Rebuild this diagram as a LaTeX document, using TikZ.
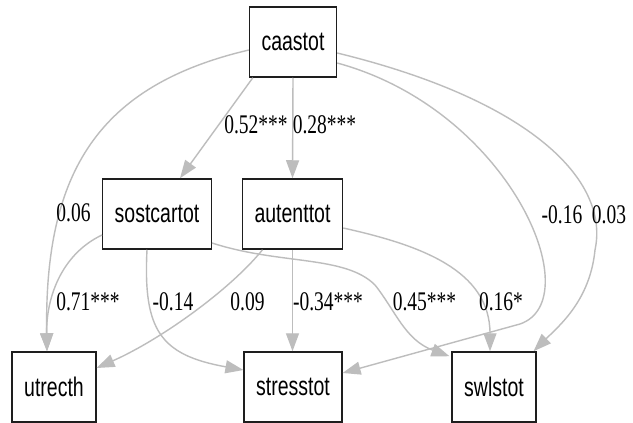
\documentclass[tikz,border=0pt]{standalone}
\usepackage{fontspec}
\setmainfont{Liberation Serif}
\setsansfont{Liberation Sans}
\usepackage{tikz}
\usepackage{xcolor}
\usetikzlibrary{arrows.meta,positioning,calc}
\definecolor{ink}{HTML}{1E1E1E}
\definecolor{pathgray}{HTML}{BDBDBD}
\newcommand{\tall}[1]{\scalebox{1}[1.38]{#1}}
\tikzset{
  varbox/.style={draw=ink,fill=white,line width=1.5pt,inner xsep=12pt,
                 minimum height=70pt,font=\sffamily\fontsize{19.5}{19.5}\selectfont},
  grayarr/.style={-{Triangle[length=18pt,width=13pt]},line width=1.4pt,
                  draw=pathgray,color=pathgray},
  coef/.style={inner sep=1pt,font=\rmfamily\fontsize{19.5}{19.5}\selectfont}
}
\begin{document}
\begin{tikzpicture}[x=1pt,y=-1pt]
    \path[use as bounding box,fill=white] (0,0) rectangle (633,423);

    \node[varbox] (caastot) at (293,42) {\tall{caastot}};
    \node[varbox] (sostcartot) at (157,214) {\tall{sostcartot}};
    \node[varbox] (autenttot) at (292.5,214) {\tall{autenttot}};
    \node[varbox] (utrecth) at (54,387) {\tall{utrecth}};
    \node[varbox] (stresstot) at (293,387) {\tall{stresstot}};
    \node[varbox] (swlstot) at (494,387) {\tall{swlstot}};

    \draw[grayarr] (caastot.west |- 0,50) .. controls (100,85) and (44,170)
      .. ($(utrecth.north)+(-7,0)$);
    \draw[grayarr] ($(caastot.south west)+(4,0)$) -- ($(sostcartot.north)+(23,0)$);
    \draw[grayarr] (caastot.south) -- (autenttot.north);
    \draw[grayarr] ($(caastot.east)+(0,21)$) .. controls (510,110) and (590,300)
      .. (520,324) -- ($(stresstot.east)+(0,-14)$);
    \draw[grayarr] ($(caastot.east)+(0,11)$) .. controls (530,100) and (610,180)
      .. (595,250) .. controls (590,300) and (560,325) .. ($(swlstot.north east)+(-3,0)$);

    \draw[grayarr] ($(sostcartot.west)+(0,21)$) .. controls (60,255) and (46,300)
      .. ($(utrecth.north)+(-7,0)$);
    \draw[grayarr] ($(sostcartot.south)+(-10,0)$) .. controls (143,330) and (160,355)
      .. ($(stresstot.west)+(0,-17)$);
    \draw[grayarr] ($(sostcartot.east)+(0,29)$) .. controls (280,265) and (345,255)
      .. (375,285) .. controls (395,310) and (405,340) .. ($(swlstot.north west)+(-2,5)$);

    \draw[grayarr] ($(autenttot.south)+(-30,0)$) .. controls (230,290) and (160,340)
      .. ($(utrecth.east)+(0,-19)$);
    \draw[grayarr] (autenttot.south) -- (autenttot.south |- stresstot.north);
    \draw[grayarr] ($(autenttot.east)+(0,14)$) .. controls (420,245) and (490,270)
      .. ($(swlstot.north)+(-4,0)$);

    \node[coef] (c-sost) at (256,125) {\tall{0.52***}};
    \node[coef] (c-aut) at (324.5,125) {\tall{0.28***}};
    \node[coef] (c-utr) at (73.5,213) {\tall{0.06}};
    \node[coef] (c-stress) at (562,215) {\tall{-0.16}};
    \node[coef] (c-swl) at (609,215) {\tall{0.03}};
    \node[coef] (s-utr) at (88,302) {\tall{0.71***}};
    \node[coef] (s-stress) at (173,302) {\tall{-0.14}};
    \node[coef] (a-utr) at (247.5,302) {\tall{0.09}};
    \node[coef] (a-stress) at (328,302) {\tall{-0.34***}};
    \node[coef] (s-swl) at (424.5,302) {\tall{0.45***}};
    \node[coef] (a-swl) at (501,302) {\tall{0.16*}};
  \end{tikzpicture}
\end{document}
